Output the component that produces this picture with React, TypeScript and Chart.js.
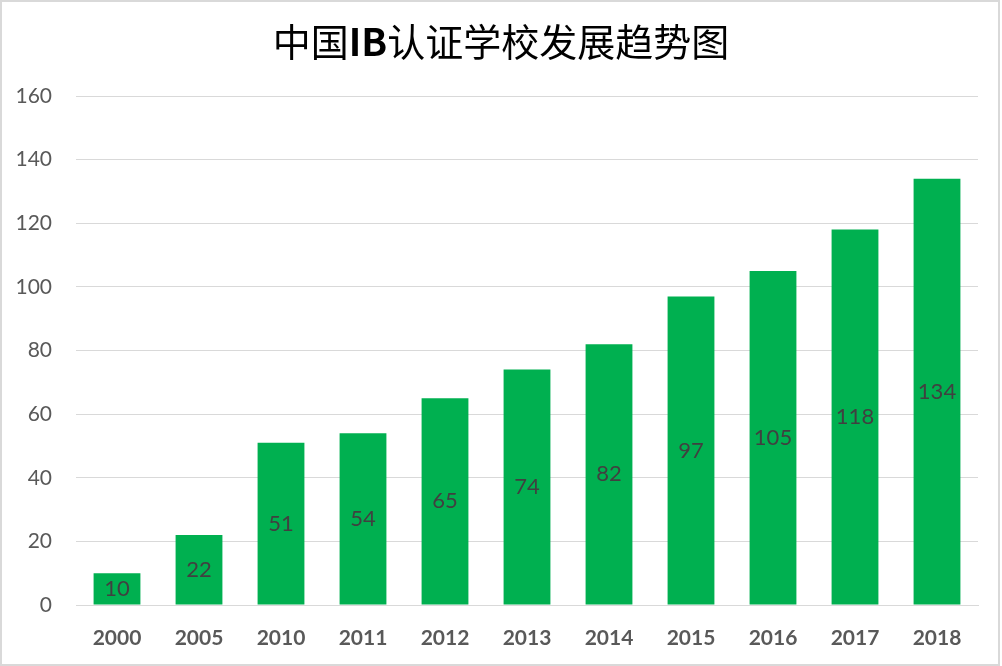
import React, { useEffect, useRef } from "react";
import { Chart, registerables } from "chart.js";

Chart.register(...registerables);

const categories = ["2000", "2005", "2010", "2011", "2012", "2013", "2014", "2015", "2016", "2017", "2018"];
const schools = [10, 22, 51, 54, 65, 74, 82, 97, 105, 118, 134];
const titleParts = [
  { text: "中国", bold: false },
  { text: "IB", bold: true },
  { text: "认证学校发展趋势图", bold: false },
];

const W = 1002;
const H = 666;

const titlePlugin = {
  id: "mixedTitle",
  afterDraw(chart: any) {
    const ctx = chart.ctx;
    ctx.save();
    const size = 38;
    const fontFor = (b: boolean) =>
      `${b ? "bold " : ""}${size}px "Noto Sans CJK SC", "Open Sans", sans-serif`;
    let total = 0;
    const widths = titleParts.map((p) => {
      ctx.font = fontFor(p.bold);
      const w = ctx.measureText(p.text).width;
      total += w;
      return w;
    });
    let x = W / 2 - total / 2;
    ctx.fillStyle = "#000000";
    ctx.textBaseline = "middle";
    ctx.textAlign = "left";
    titleParts.forEach((p, i) => {
      ctx.font = fontFor(p.bold);
      ctx.fillText(p.text, x, 42);
      x += widths[i];
    });
    ctx.restore();
  },
};

const labelPlugin = {
  id: "barLabels",
  afterDatasetsDraw(chart: any) {
    const ctx = chart.ctx;
    const meta = chart.getDatasetMeta(0);
    ctx.save();
    ctx.font = '22px Lato, "Open Sans", sans-serif';
    ctx.fillStyle = "#404040";
    ctx.textAlign = "center";
    ctx.textBaseline = "middle";
    meta.data.forEach((bar: any, i: number) => {
      const y = (bar.y + bar.base) / 2;
      ctx.fillText(String(schools[i]), bar.x, y);
    });
    ctx.restore();
  },
};

export default function App() {
  const ref = useRef<HTMLCanvasElement | null>(null);
  useEffect(() => {
    if (!ref.current) return;
    const chart = new Chart(ref.current, {
      type: "bar",
      data: {
        labels: categories,
        datasets: [
          {
            data: schools,
            backgroundColor: "#00B050",
            barPercentage: 0.571,
            categoryPercentage: 1,
          },
        ],
      },
      options: {
        responsive: false,
        animation: false,
        layout: { padding: { top: 96, right: 24, left: 0, bottom: 0 } },
        plugins: { legend: { display: false }, tooltip: { enabled: false }, title: { display: false } },
        scales: {
          x: {
            grid: { display: false },
            border: { display: true, color: "#d9d9d9", width: 1 },
            ticks: {
              color: "#595959",
              font: { family: 'Lato, "Open Sans", sans-serif', size: 21, weight: "bold" },
              padding: 13,
              maxRotation: 0,
            },
            afterFit(scale: any) {
              scale.height = 61;
            },
          },
          y: {
            min: 0,
            max: 160,
            ticks: {
              stepSize: 20,
              color: "#595959",
              font: { family: 'Lato, "Open Sans", sans-serif', size: 21 },
              padding: 24,
            },
            grid: { color: "#d9d9d9", lineWidth: 1, drawTicks: false },
            border: { display: false },
            afterFit(scale: any) {
              scale.width = 76;
            },
          },
        },
      },
      plugins: [titlePlugin, labelPlugin],
    });
    return () => chart.destroy();
  }, []);
  return (
    <div
      style={{
        position: "fixed",
        left: 0,
        top: 0,
        width: W,
        height: H,
        background: "#ffffff",
      }}
    >
      <canvas ref={ref} width={W} height={H} style={{ display: "block" }} />
      <div
        style={{
          position: "absolute",
          left: 0,
          top: 0,
          width: W - 2,
          height: H,
          boxSizing: "border-box",
          border: "2px solid #d9d9d9",
          pointerEvents: "none",
        }}
      />
    </div>
  );
}
